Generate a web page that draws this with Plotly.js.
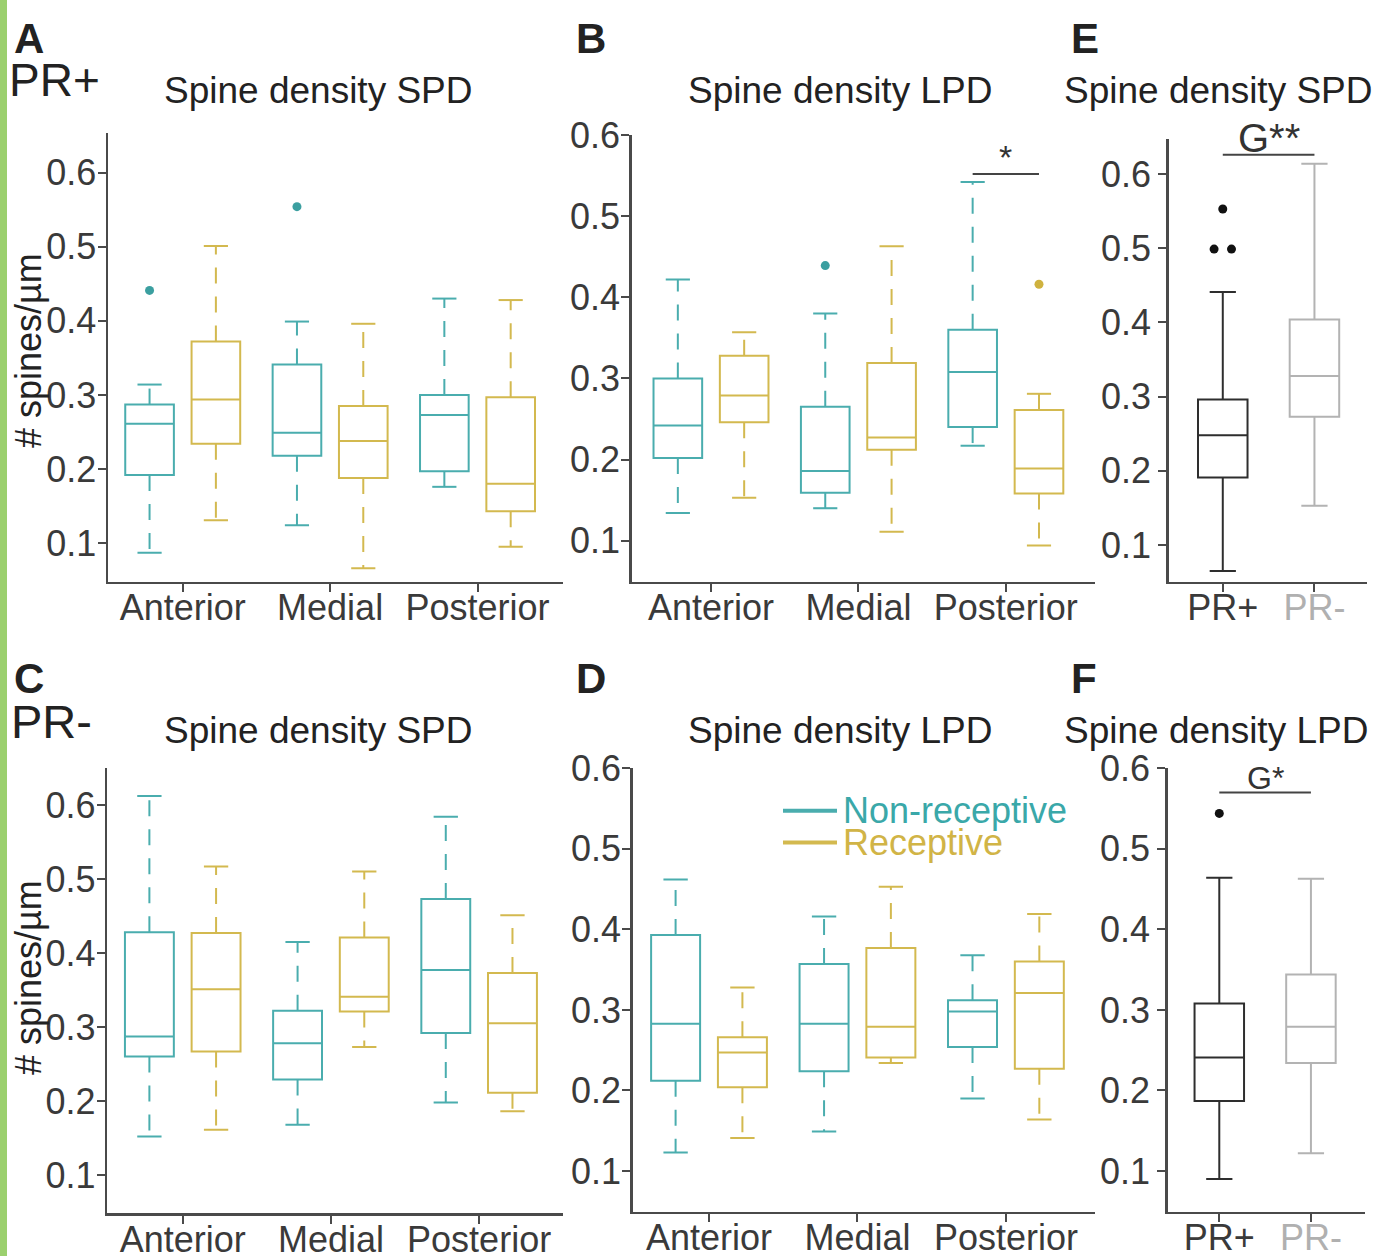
<!DOCTYPE html>
<html><head><meta charset="utf-8">
<script src="https://cdn.plot.ly/plotly-3.0.1.min.js"></script>
<style>html,body{margin:0;padding:0;background:#fff}</style>
</head><body><div id="chart" style="width:1378px;height:1256px"></div>
<script>
// ---------- DATA ----------
const categories = ['Anterior', 'Medial', 'Posterior'];
const groups = ['PR+', 'PR-'];
const seriesNames = ['Non-receptive', 'Receptive'];
const yTicks = [0.1, 0.2, 0.3, 0.4, 0.5, 0.6];

// A: PR+ spine density SPD
const A_non_lo = [0.087, 0.124, 0.176];
const A_non_q1 = [0.192, 0.218, 0.197];
const A_non_med = [0.261, 0.249, 0.273];
const A_non_q3 = [0.287, 0.341, 0.300];
const A_non_hi = [0.314, 0.399, 0.430];
const A_non_out = [[0.441], [0.554], []];
const A_rec_lo = [0.131, 0.066, 0.095];
const A_rec_q1 = [0.234, 0.188, 0.143];
const A_rec_med = [0.294, 0.238, 0.180];
const A_rec_q3 = [0.372, 0.285, 0.297];
const A_rec_hi = [0.501, 0.396, 0.428];
const A_rec_out = [[], [], []];

// B: PR+ spine density LPD
const B_non_lo = [0.134, 0.140, 0.217];
const B_non_q1 = [0.202, 0.159, 0.240];
const B_non_med = [0.242, 0.186, 0.308];
const B_non_q3 = [0.300, 0.265, 0.360];
const B_non_hi = [0.422, 0.380, 0.542];
const B_non_out = [[], [0.439], []];
const B_rec_lo = [0.153, 0.111, 0.094];
const B_rec_q1 = [0.246, 0.212, 0.158];
const B_rec_med = [0.279, 0.227, 0.189];
const B_rec_q3 = [0.328, 0.319, 0.261];
const B_rec_hi = [0.357, 0.463, 0.281];
const B_rec_out = [[], [], [0.416]];
const B_sig = {category: 'Posterior', y: 0.552, label: '*'};

// C: PR- spine density SPD
const C_non_lo = [0.152, 0.168, 0.198];
const C_non_q1 = [0.260, 0.229, 0.292];
const C_non_med = [0.287, 0.278, 0.377];
const C_non_q3 = [0.428, 0.322, 0.473];
const C_non_hi = [0.612, 0.415, 0.584];
const C_non_out = [[], [], []];
const C_rec_lo = [0.161, 0.273, 0.186];
const C_rec_q1 = [0.267, 0.321, 0.211];
const C_rec_med = [0.351, 0.341, 0.305];
const C_rec_q3 = [0.427, 0.421, 0.373];
const C_rec_hi = [0.517, 0.510, 0.451];
const C_rec_out = [[], [], []];

// D: PR- spine density LPD
const D_non_lo = [0.123, 0.149, 0.190];
const D_non_q1 = [0.212, 0.224, 0.254];
const D_non_med = [0.283, 0.283, 0.298];
const D_non_q3 = [0.393, 0.357, 0.312];
const D_non_hi = [0.462, 0.416, 0.368];
const D_non_out = [[], [], []];
const D_rec_lo = [0.141, 0.234, 0.164];
const D_rec_q1 = [0.204, 0.241, 0.227];
const D_rec_med = [0.247, 0.279, 0.321];
const D_rec_q3 = [0.266, 0.377, 0.360];
const D_rec_hi = [0.328, 0.453, 0.419];
const D_rec_out = [[], [], []];

// E: SPD pooled PR+ vs PR-
const E_lo = [0.065, 0.153];
const E_q1 = [0.191, 0.273];
const E_med = [0.248, 0.328];
const E_q3 = [0.296, 0.404];
const E_hi = [0.441, 0.614];
const E_out = [[0.553, 0.499, 0.499], []];
const E_sig = {y: 0.626, label: 'G**'};

// F: LPD pooled PR+ vs PR-
const F_lo = [0.090, 0.122];
const F_q1 = [0.187, 0.234];
const F_med = [0.241, 0.279];
const F_q3 = [0.308, 0.344];
const F_hi = [0.464, 0.463];
const F_out = [[0.544], []];
const F_sig = {y: 0.570, label: 'G*'};

// ---------- STYLE / LAYOUT ----------
const W = 1378, H = 1256;
const PX = x => x / W, PY = y => 1 - y / H;
const FONT = 'Liberation Sans, Arial, Helvetica, sans-serif';
const CYAN = '#4aadae', GOLD = '#d3b94f';
const CYAN_DOT = '#3b9fa0', GOLD_DOT = '#cfb23f';
const DARK = '#2e2e2e', LIGHT = '#b3b3b3';
const AXC = '#4a4a4a';
const OFF = 0.225, BOXW = 0.33, CAPH = 0.082;

const traces = [];
const layout = {
  width: W, height: H, margin: {l: 0, r: 0, t: 0, b: 0},
  paper_bgcolor: '#fff', plot_bgcolor: 'rgba(0,0,0,0)',
  font: {family: FONT, color: '#333'},
  showlegend: false, annotations: [], shapes: []
};

function axes(n, xdom, ydom, xr, yr, tickvals, ticktext, yStand) {
  const sfx = n === 1 ? '' : n;
  layout['xaxis' + sfx] = {
    domain: [PX(xdom[0]), PX(xdom[1])], range: xr, anchor: 'y' + sfx,
    tickmode: 'array', tickvals: tickvals, ticktext: ticktext,
    showline: true, linecolor: AXC, linewidth: 2.5, ticks: 'outside', ticklen: 8,
    tickwidth: 2, tickcolor: AXC, showgrid: false, zeroline: false, ticklabelstandoff: -15,
    tickfont: {size: 36, color: '#3a3a3a', family: FONT}, fixedrange: true
  };
  layout['yaxis' + sfx] = {
    domain: [PY(ydom[1]), PY(ydom[0])], range: yr, anchor: 'x' + sfx,
    tickmode: 'array', tickvals: yTicks, ticktext: yTicks.map(v => v.toFixed(1)),
    showline: true, linecolor: AXC, linewidth: 2.5, ticks: 'outside', ticklen: 8,
    tickwidth: 2, tickcolor: AXC, showgrid: false, zeroline: false, ticklabelstandoff: yStand,
    tickfont: {size: 36, color: '#3a3a3a', family: FONT}, fixedrange: true
  };
  return {x: 'x' + sfx, y: 'y' + sfx};
}

function dashedSeries(ax, name, off, lo, q1, med, q3, hi, out, color, dotColor) {
  const pos = categories.map((c, i) => i + 1 + off);
  traces.push({type: 'box', xaxis: ax.x, yaxis: ax.y, name: name, x: pos,
    q1: q1, median: med, q3: q3, lowerfence: q1, upperfence: q3,
    width: BOXW, whiskerwidth: 0, boxpoints: false,
    line: {color: color, width: 2}, fillcolor: 'rgba(255,255,255,0)', hoverinfo: 'skip'});
  const wx = [], wy = [], cx = [], cy = [];
  pos.forEach((p, i) => {
    wx.push(p, p, null, p, p, null); wy.push(q3[i], hi[i], null, q1[i], lo[i], null);
    cx.push(p - CAPH, p + CAPH, null, p - CAPH, p + CAPH, null);
    cy.push(hi[i], hi[i], null, lo[i], lo[i], null);
  });
  traces.push({type: 'scatter', mode: 'lines', xaxis: ax.x, yaxis: ax.y, x: wx, y: wy,
    line: {color: color, width: 2, dash: '16px,13px'}, hoverinfo: 'skip'});
  traces.push({type: 'scatter', mode: 'lines', xaxis: ax.x, yaxis: ax.y, x: cx, y: cy,
    line: {color: color, width: 2}, hoverinfo: 'skip'});
  const ox = [], oy = [];
  out.forEach((arr, i) => arr.forEach(v => { ox.push(pos[i]); oy.push(v); }));
  if (ox.length) traces.push({type: 'scatter', mode: 'markers', xaxis: ax.x, yaxis: ax.y,
    x: ox, y: oy, marker: {color: dotColor, size: 9}, hoverinfo: 'skip'});
}

function solidPair(ax, lo, q1, med, q3, hi, out) {
  const cols = [DARK, LIGHT];
  groups.forEach((g, i) => {
    traces.push({type: 'box', xaxis: ax.x, yaxis: ax.y, name: g, x: [i + 1],
      q1: [q1[i]], median: [med[i]], q3: [q3[i]], lowerfence: [lo[i]], upperfence: [hi[i]],
      width: 0.54, whiskerwidth: 0.53, boxpoints: false,
      line: {color: cols[i], width: 2}, fillcolor: 'rgba(255,255,255,0)', hoverinfo: 'skip'});
    const vals = out[i];
    if (vals.length) {
      const ox = [], oy = [];
      vals.forEach((v, k) => {
        const same = vals.filter(w => Math.abs(w - v) < 0.005);
        const idx = vals.slice(0, k).filter(w => Math.abs(w - v) < 0.005).length;
        const spread = same.length > 1 ? (idx - (same.length - 1) / 2) * 0.19 : 0;
        ox.push(i + 1 + spread); oy.push(v);
      });
      traces.push({type: 'scatter', mode: 'markers', xaxis: ax.x, yaxis: ax.y,
        x: ox, y: oy, marker: {color: '#111', size: 9}, hoverinfo: 'skip'});
    }
  });
}

function sigBar(ax, x0, x1, y, label, size, yshift) {
  traces.push({type: 'scatter', mode: 'lines', xaxis: ax.x, yaxis: ax.y,
    x: [x0, x1], y: [y, y], line: {color: '#444', width: 2}, hoverinfo: 'skip'});
  layout.annotations.push({xref: ax.x, yref: ax.y, x: (x0 + x1) / 2, y: y, text: label,
    showarrow: false, yanchor: 'bottom', yshift: yshift, font: {size: size, color: '#333', family: FONT}});
}

const grpTick = [1, 2];
const grpText = ['PR+', '<span style="color:#b0b0b0">PR-</span>'];
const catTick = [1, 2, 3];

// Panel A
const axA = axes(1, [108, 563], [133.3, 581.7], [0.493, 3.58], [0.048, 0.653], catTick, categories, -6);
dashedSeries(axA, seriesNames[0], -OFF, A_non_lo, A_non_q1, A_non_med, A_non_q3, A_non_hi, A_non_out, CYAN, CYAN_DOT);
dashedSeries(axA, seriesNames[1], OFF, A_rec_lo, A_rec_q1, A_rec_med, A_rec_q3, A_rec_hi, A_rec_out, GOLD, GOLD_DOT);
// Panel B
const axB = axes(2, [631.7, 1095], [135, 581.7], [0.462, 3.605], [0.0494, 0.6], catTick, categories, -6);
dashedSeries(axB, seriesNames[0], -OFF, B_non_lo, B_non_q1, B_non_med, B_non_q3, B_non_hi, B_non_out, CYAN, CYAN_DOT);
dashedSeries(axB, seriesNames[1], OFF, B_rec_lo, B_rec_q1, B_rec_med, B_rec_q3, B_rec_hi, B_rec_out, GOLD, GOLD_DOT);
const bi = categories.indexOf(B_sig.category) + 1;
sigBar(axB, bi - OFF, bi + OFF, B_sig.y, B_sig.label, 34, -4);
// Panel E
const axE = axes(3, [1168.7, 1366.7], [139.3, 581.7], [0.41, 2.57], [0.0505, 0.647], grpTick, grpText, 0);
solidPair(axE, E_lo, E_q1, E_med, E_q3, E_hi, E_out);
sigBar(axE, 1, 2, E_sig.y, E_sig.label, 40, -7);
// Panel C
const axC = axes(4, [107.3, 563], [768.3, 1213.3], [0.491, 3.566], [0.0482, 0.6496], catTick, categories, -6);
dashedSeries(axC, seriesNames[0], -OFF, C_non_lo, C_non_q1, C_non_med, C_non_q3, C_non_hi, C_non_out, CYAN, CYAN_DOT);
dashedSeries(axC, seriesNames[1], OFF, C_rec_lo, C_rec_q1, C_rec_med, C_rec_q3, C_rec_hi, C_rec_out, GOLD, GOLD_DOT);
// Panel D
const axD = axes(5, [632.7, 1095], [768.3, 1211.7], [0.486, 3.6], [0.0495, 0.6], catTick, categories, -6);
dashedSeries(axD, seriesNames[0], -OFF, D_non_lo, D_non_q1, D_non_med, D_non_q3, D_non_hi, D_non_out, CYAN, CYAN_DOT);
dashedSeries(axD, seriesNames[1], OFF, D_rec_lo, D_rec_q1, D_rec_med, D_rec_q3, D_rec_hi, D_rec_out, GOLD, GOLD_DOT);
// Panel F
const axF = axes(6, [1167.7, 1365], [768.3, 1211.7], [0.437, 2.59], [0.0495, 0.6], grpTick, grpText, 0);
solidPair(axF, F_lo, F_q1, F_med, F_q3, F_hi, F_out);
sigBar(axF, 1, 2, F_sig.y, F_sig.label, 32, -6);

// Decorative left strip
layout.shapes.push({type: 'rect', xref: 'paper', yref: 'paper', x0: 0, x1: PX(7), y0: 0, y1: 1,
  fillcolor: '#9bd06e', line: {width: 0}, layer: 'below'});

// Legend (panel D)
const legCols = [CYAN, GOLD], legY = [810.7, 842.5];
seriesNames.forEach((s, i) => {
  layout.shapes.push({type: 'line', xref: 'paper', yref: 'paper', x0: PX(783), x1: PX(837),
    y0: PY(legY[i]), y1: PY(legY[i]), line: {color: legCols[i], width: 4}});
  layout.annotations.push({xref: 'paper', yref: 'paper', x: PX(841), y: PY(legY[i]), text: s,
    showarrow: false, xanchor: 'left', yanchor: 'middle',
    font: {size: 36, color: i === 0 ? '#3aa8a9' : '#d1b446', family: FONT}});
});

function ann(text, x, y, size, opts) {
  layout.annotations.push(Object.assign({xref: 'paper', yref: 'paper', x: PX(x), y: PY(y), text: text,
    showarrow: false, xanchor: 'center', yanchor: 'middle', font: {size: size, color: '#222', family: FONT}}, opts || {}));
}
// Panel letters
[['A', 12, 38], ['B', 574, 38], ['E', 1069, 38], ['C', 12, 678], ['D', 574, 678], ['F', 1069, 678]]
  .forEach(l => ann('<b>' + l[0] + '</b>', l[1], l[2], 42, {xanchor: 'left'}));
ann('PR+', 7, 80, 46, {xanchor: 'left'});
ann('PR-', 9, 721, 47, {xanchor: 'left'});
// Titles
ann('Spine density SPD', 318, 91, 37);
ann('Spine density LPD', 840, 91, 37);
ann('Spine density SPD', 1218, 91, 37);
ann('Spine density SPD', 318, 731, 37);
ann('Spine density LPD', 840, 731, 37);
ann('Spine density LPD', 1216, 731, 37);
// Y axis titles
ann('# spines/µm', 28, 351, 36, {textangle: -90});
ann('# spines/µm', 28, 978, 36, {textangle: -90});

Plotly.newPlot('chart', traces, layout, {displayModeBar: false, staticPlot: true});
</script></body></html>
